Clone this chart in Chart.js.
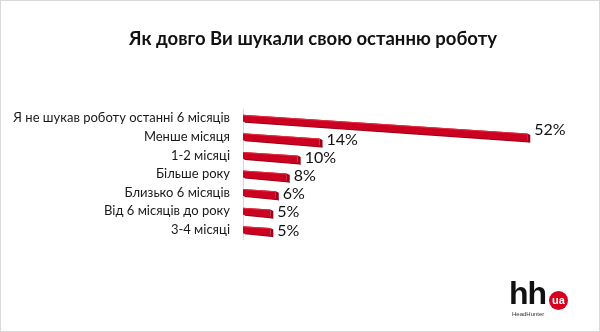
<!DOCTYPE html>
<html>
<head>
<meta charset="utf-8">
<script src="https://cdn.jsdelivr.net/npm/chart.js@4/dist/chart.umd.min.js"></script>
<style>
  html, body { margin: 0; padding: 0; background: #fff; }
  #wrap { position: relative; width: 600px; height: 332px; box-sizing: border-box; border: 1px solid #d9d9d9; overflow: hidden; }
  #c { position: absolute; left: -1px; top: -1px; }
  #title { position: absolute; left: 24px; top: 26px; width: 576px; text-align: center; font-family: Lato, "Open Sans", sans-serif; font-weight: 700; font-size: 18.5px; color: #111; }
  #logo { position: absolute; left: 508px; top: 280px; width: 70px; height: 42px; font-family: "Liberation Sans", Arial, sans-serif; }
  #logo .hh { position: absolute; left: 0; top: -4px; font-size: 32px; font-weight: 700; letter-spacing: -1px; color: #111; line-height: 32px; }
  #logo .ua { position: absolute; left: 40px; top: 10px; width: 19px; height: 19px; border-radius: 50%; background: #d6001c; color: #fff; font-size: 11px; font-weight: 700; text-align: center; line-height: 18px; }
  #logo .hd { position: absolute; left: 3px; top: 30px; font-size: 6px; color: #333; }
</style>
</head>
<body>
<div id="wrap">
  <canvas id="c" width="600" height="332"></canvas>
  <div id="title">Як довго Ви шукали свою останню роботу</div>
  <div id="logo"><span class="hh">hh</span><span class="ua">ua</span><span class="hd">HeadHunter</span></div>
</div>
<script>
const categories = [
  "Я не шукав роботу останні 6 місяців",
  "Менше місяця",
  "1-2 місяці",
  "Більше року",
  "Близько 6 місяців",
  "Від 6 місяців до року",
  "3-4 місяці"
];
const values = [52, 14, 10, 8, 6, 5, 5];
const valueLabels = ["52%", "14%", "10%", "8%", "6%", "5%", "5%"];

const SLOPE = 0.066;

const bar3d = {
  id: 'bar3d',
  beforeDatasetDraw(chart, args) {
    const ctx = chart.ctx;
    const meta = args.meta;
    ctx.save();
    meta.data.forEach((el, i) => {
      const p = el.getProps(['x', 'y', 'base', 'height'], true);
      const x0 = p.base, x1 = p.x, h = p.height;
      const len = x1 - x0;
      const dy = SLOPE * len;
      const top0 = p.y - h / 2, bot0 = p.y + h / 2;
      const top1 = top0 + dy, bot1 = bot0 + dy + 1;
      // bottom shade face
      ctx.fillStyle = '#8e0016';
      ctx.beginPath();
      ctx.moveTo(x0, bot0 - 1);
      ctx.lineTo(x1, bot1 - 1);
      ctx.lineTo(x1 + 2, bot1 + 1);
      ctx.lineTo(x0 + 2, bot0 + 1);
      ctx.closePath();
      ctx.fill();
      // front face
      ctx.fillStyle = '#cc0020';
      ctx.beginPath();
      ctx.moveTo(x0, top0);
      ctx.lineTo(x1, top1);
      ctx.lineTo(x1, bot1);
      ctx.lineTo(x0, bot0);
      ctx.closePath();
      ctx.fill();
      // top highlight
      ctx.fillStyle = '#e0303f';
      ctx.beginPath();
      ctx.moveTo(x0, top0);
      ctx.lineTo(x1, top1);
      ctx.lineTo(x1, top1 + 1);
      ctx.lineTo(x0, top0 + 1);
      ctx.closePath();
      ctx.fill();
      // end cap
      ctx.fillStyle = '#9c0018';
      ctx.beginPath();
      ctx.moveTo(x1, top1);
      ctx.lineTo(x1 + 3, top1 + 1.5);
      ctx.lineTo(x1 + 3, bot1 + 1.5);
      ctx.lineTo(x1, bot1);
      ctx.closePath();
      ctx.fill();
      // value label
      ctx.fillStyle = '#111';
      ctx.font = '16px Lato, "Open Sans", sans-serif';
      ctx.textAlign = 'left';
      ctx.textBaseline = 'middle';
      ctx.fillText(valueLabels[i], x1 + 7, p.y + dy * 0.6);
    });
    ctx.restore();
    return false;
  }
};

new Chart(document.getElementById('c'), {
  type: 'bar',
  data: {
    labels: categories,
    datasets: [{
      data: values,
      backgroundColor: '#cc0020',
      barThickness: 7
    }]
  },
  plugins: [bar3d],
  options: {
    indexAxis: 'y',
    responsive: false,
    animation: false,
    layout: { padding: { top: 109, bottom: 93, left: 0, right: 29 } },
    plugins: { legend: { display: false }, tooltip: { enabled: false } },
    scales: {
      x: { display: false, min: 0, max: 60 },
      y: {
        afterFit(scale) { scale.width = 243; },
        grid: { display: false, drawTicks: false },
        border: { display: true, color: '#d9d9d9', width: 1 },
        ticks: { autoSkip: false, padding: 13, color: '#1a1a1a', font: { family: 'Lato, "Open Sans", sans-serif', size: 13 } }
      }
    }
  }
});
</script>
</body>
</html>
